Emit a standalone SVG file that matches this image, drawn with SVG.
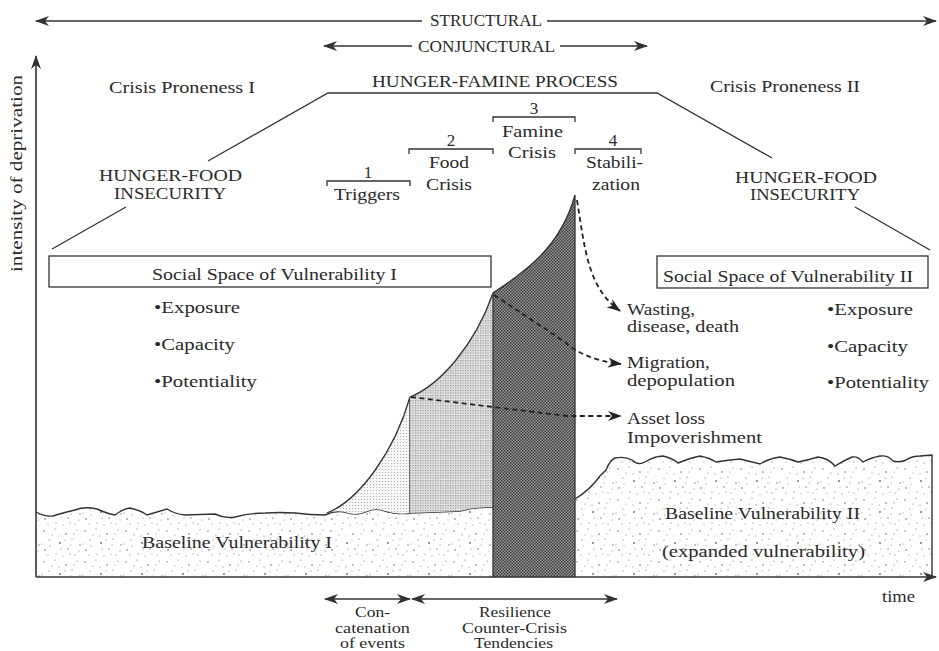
<svg xmlns="http://www.w3.org/2000/svg" width="939" height="651" viewBox="0 0 939 651">
<defs>
<style>
text{font-family:"Liberation Serif","DejaVu Serif",serif;font-size:17px;fill:#2a2a2a}
.sm{font-size:16px}
.xs{font-size:14.5px}
.ln{stroke:#333;stroke-width:1.3;fill:none}
.ax{stroke:#333;stroke-width:1.6;fill:none}
.dash{stroke:#222;stroke-width:1.8;fill:none;stroke-dasharray:5 3.5}
.edge{stroke:#333;stroke-width:1.4;fill:none}
</style>
<marker id="ah" markerUnits="userSpaceOnUse" viewBox="0 0 14 10" refX="13" refY="5" markerWidth="14" markerHeight="10" orient="auto-start-reverse">
<path d="M0,0 L14,5 L0,10 L4,5 z" fill="#333"/>
</marker>
<marker id="dah" markerUnits="userSpaceOnUse" viewBox="0 0 14 10" refX="13" refY="5" markerWidth="14" markerHeight="10" orient="auto">
<path d="M0,0 L14,5 L0,10 L4,5 z" fill="#222"/>
</marker>
<pattern id="stip" width="41" height="31" patternUnits="userSpaceOnUse">
<rect width="41" height="31" fill="#fff"/>
<g fill="#666">
<circle cx="3" cy="4" r="0.7"/><circle cx="14" cy="2" r="0.6"/><circle cx="25" cy="7" r="0.8"/><circle cx="36" cy="3" r="0.6"/>
<circle cx="8" cy="13" r="0.6"/><circle cx="19" cy="16" r="0.9"/><circle cx="31" cy="12" r="0.6"/><circle cx="39" cy="18" r="0.7"/>
<circle cx="4" cy="23" r="0.8"/><circle cx="15" cy="27" r="0.6"/><circle cx="27" cy="22" r="0.7"/><circle cx="34" cy="28" r="0.6"/>
<circle cx="11" cy="8" r="0.5"/><circle cx="22" cy="29" r="0.5"/><circle cx="30" cy="18" r="0.5"/><circle cx="1" cy="17" r="0.5"/>
<circle cx="18" cy="9" r="0.5"/><circle cx="33" cy="7" r="0.5"/><circle cx="9" cy="19" r="0.5"/><circle cx="24" cy="13" r="0.5"/>
<circle cx="38" cy="24" r="0.5"/><circle cx="7" cy="28" r="0.5"/><circle cx="20" cy="22" r="0.5"/><circle cx="29" cy="27" r="0.5"/>
</g>
</pattern>
<pattern id="light" width="3" height="3" patternUnits="userSpaceOnUse">
<rect width="3" height="3" fill="#f6f6f6"/>
<circle cx="1.5" cy="1.5" r="0.6" fill="#aaa"/>
</pattern>
<pattern id="med" width="2.5" height="2.5" patternUnits="userSpaceOnUse">
<rect width="2.5" height="2.5" fill="#e2e2e2"/>
<rect x="0" y="0" width="1.1" height="1.1" fill="#888"/>
</pattern>
<pattern id="dark" width="3" height="3" patternUnits="userSpaceOnUse">
<rect width="3" height="3" fill="#9a9a9a"/>
<rect x="0" y="0" width="1.5" height="1.5" fill="#3a3a3a"/>
<rect x="1.5" y="1.5" width="1.5" height="1.5" fill="#3a3a3a"/>
</pattern>
</defs>
<rect width="939" height="651" fill="#fff"/>

<g id="baseline1">
<path d="M36,512 Q45,517 53,516 Q62,513 75,510 Q85,506 97,509 Q108,514 115,515 Q122,509 130,508 Q140,510 147,515 Q157,512 167,509 Q175,514 185,515 L215,514 Q225,519 235,517 Q250,513 265,513 Q280,512 295,513 Q310,515 325,515 Q335,510 345,512 Q355,516 365,512 Q375,507 385,511 Q398,515 410,513 Q440,512 460,511 Q475,507 493,507 L493,577 L36,577 Z" fill="url(#stip)"/>
<path d="M36,512 Q45,517 53,516 Q62,513 75,510 Q85,506 97,509 Q108,514 115,515 Q122,509 130,508 Q140,510 147,515 Q157,512 167,509 Q175,514 185,515 L215,514 Q225,519 235,517 Q250,513 265,513 Q280,512 295,513 Q310,515 325,515 Q335,510 345,512 Q355,516 365,512 Q375,507 385,511 Q398,515 410,513 Q440,512 460,511 Q475,507 493,507" class="edge"/>
<text x="142" y="548" textLength="190" lengthAdjust="spacingAndGlyphs">Baseline Vulnerability I</text>
</g>

<g id="baseline2">
<path d="M575,499 Q590,490 600,476 L606,470 Q610,460 615,458 Q625,456 632,460 Q638,466 645,462 Q655,456 663,456 Q672,458 678,463 Q690,458 700,456 Q710,458 716,462 Q728,460 740,459 Q752,462 760,464 Q770,458 780,457 Q790,459 798,462 Q808,460 818,457 Q828,458 835,466 Q845,460 852,457 Q858,456 863,462 Q870,458 880,456 Q888,455 893,461 Q900,463 906,460 Q912,456 920,456 L932,455 L932,577 L575,577 Z" fill="url(#stip)"/>
<path d="M575,499 Q590,490 600,476 L606,470 Q610,460 615,458 Q625,456 632,460 Q638,466 645,462 Q655,456 663,456 Q672,458 678,463 Q690,458 700,456 Q710,458 716,462 Q728,460 740,459 Q752,462 760,464 Q770,458 780,457 Q790,459 798,462 Q808,460 818,457 Q828,458 835,466 Q845,460 852,457 Q858,456 863,462 Q870,458 880,456 Q888,455 893,461 Q900,463 906,460 Q912,456 920,456 L932,455 L932,577" class="edge"/>
<text x="665" y="519" textLength="195" lengthAdjust="spacingAndGlyphs">Baseline Vulnerability II</text>
<text x="662" y="557" textLength="203" lengthAdjust="spacingAndGlyphs">(expanded vulnerability)</text>
</g>

<g id="phase-triggers-area">
<path d="M327,513 C360,500 395,450 410,397 L410,513 Q398,515 385,511 Q375,507 365,512 Q355,516 345,512 Q335,510 327,513 Z" fill="url(#light)"/>
<path d="M327,513 C360,500 395,450 410,397 L410,513" class="ln"/>
</g>
<g id="phase-food-area">
<path d="M410,397 C440,385 475,345 493,293 L493,507 Q475,507 460,511 Q440,512 410,513 Z" fill="url(#med)"/>
<path d="M410,397 C440,385 475,345 493,293" class="ln"/>
</g>
<g id="phase-famine-area">
<path d="M493,293 C520,275 560,250 575,195 L575,577 L493,577 Z" fill="url(#dark)"/>
<path d="M493,293 C520,275 560,250 575,195 L575,577 M493,293 L493,577" class="ln"/>
</g>

<g id="axes">
<path d="M36,577 L36,56" class="ax" marker-end="url(#ah)"/>
<path d="M36,577 L936,577" class="ax" marker-end="url(#ah)"/>
<text transform="translate(22,272) rotate(-90)" textLength="197" lengthAdjust="spacingAndGlyphs">intensity of deprivation</text>
<text x="882" y="602" textLength="33" lengthAdjust="spacingAndGlyphs">time</text>
</g>

<g id="timescales">
<path d="M36,21 L422,21" class="ln" marker-start="url(#ah)"/>
<path d="M547,21 L936,21" class="ln" marker-end="url(#ah)"/>
<text x="430" y="26" class="sm" textLength="112" lengthAdjust="spacingAndGlyphs">STRUCTURAL</text>
<path d="M324,46 L412,46" class="ln" marker-start="url(#ah)"/>
<path d="M560,46 L647,46" class="ln" marker-end="url(#ah)"/>
<text x="418" y="52" class="sm" textLength="137" lengthAdjust="spacingAndGlyphs">CONJUNCTURAL</text>
</g>

<g id="process">
<path d="M52,249 L126,207 M208,161 L328,93 L657,93 L772,158 M855,207 L930,250" class="ln"/>
<text x="372" y="87" textLength="246" lengthAdjust="spacingAndGlyphs">HUNGER-FAMINE PROCESS</text>
<text x="109" y="93" textLength="146" lengthAdjust="spacingAndGlyphs">Crisis Proneness I</text>
<text x="710" y="92" textLength="150" lengthAdjust="spacingAndGlyphs">Crisis Proneness II</text>
</g>

<g id="insecurity1">
<text x="99" y="181" class="sm" textLength="143" lengthAdjust="spacingAndGlyphs">HUNGER-FOOD</text>
<text x="114" y="199" class="sm" textLength="112" lengthAdjust="spacingAndGlyphs">INSECURITY</text>
</g>
<g id="insecurity2">
<text x="735" y="183" class="sm" textLength="142" lengthAdjust="spacingAndGlyphs">HUNGER-FOOD</text>
<text x="750" y="200" class="sm" textLength="110" lengthAdjust="spacingAndGlyphs">INSECURITY</text>
</g>

<g id="space1">
<rect x="49" y="256" width="442" height="31" class="ln" fill="#fff"/>
<text x="152" y="280" textLength="245" lengthAdjust="spacingAndGlyphs">Social Space of Vulnerability I</text>
<text x="154" y="313" textLength="86" lengthAdjust="spacingAndGlyphs">•Exposure</text>
<text x="154" y="350" textLength="81" lengthAdjust="spacingAndGlyphs">•Capacity</text>
<text x="154" y="387" textLength="103" lengthAdjust="spacingAndGlyphs">•Potentiality</text>
</g>
<g id="space2">
<rect x="657" y="256" width="271" height="32" class="ln" fill="#fff"/>
<text x="663" y="282" textLength="250" lengthAdjust="spacingAndGlyphs">Social Space of Vulnerability II</text>
<text x="827" y="315" textLength="86" lengthAdjust="spacingAndGlyphs">•Exposure</text>
<text x="827" y="352" textLength="81" lengthAdjust="spacingAndGlyphs">•Capacity</text>
<text x="827" y="388" textLength="102" lengthAdjust="spacingAndGlyphs">•Potentiality</text>
</g>

<g id="phase1">
<path d="M327,186 V181 H410 V186" class="ln"/>
<text x="368" y="178" text-anchor="middle">1</text>
<text x="334" y="200" textLength="66" lengthAdjust="spacingAndGlyphs">Triggers</text>
</g>
<g id="phase2">
<path d="M409,154 V149 H493 V154" class="ln"/>
<text x="451" y="146" text-anchor="middle">2</text>
<text x="429" y="168" textLength="40" lengthAdjust="spacingAndGlyphs">Food</text>
<text x="426" y="190" textLength="46" lengthAdjust="spacingAndGlyphs">Crisis</text>
</g>
<g id="phase3">
<path d="M493,122 V117 H575 V122" class="ln"/>
<text x="534" y="114" text-anchor="middle">3</text>
<text x="502" y="137" textLength="61" lengthAdjust="spacingAndGlyphs">Famine</text>
<text x="508" y="158" textLength="48" lengthAdjust="spacingAndGlyphs">Crisis</text>
</g>
<g id="phase4">
<path d="M575,154 V149 H641 V154" class="ln"/>
<text x="613" y="146" text-anchor="middle">4</text>
<text x="586" y="168" textLength="57" lengthAdjust="spacingAndGlyphs">Stabili-</text>
<text x="592" y="190" textLength="48" lengthAdjust="spacingAndGlyphs">zation</text>
</g>

<g id="outcomes">
<text x="627" y="315" class="sm" textLength="68" lengthAdjust="spacingAndGlyphs">Wasting,</text>
<text x="627" y="332" class="sm" textLength="112" lengthAdjust="spacingAndGlyphs">disease, death</text>
<text x="627" y="368" textLength="83" lengthAdjust="spacingAndGlyphs">Migration,</text>
<text x="627" y="386" textLength="108" lengthAdjust="spacingAndGlyphs">depopulation</text>
<text x="627" y="424" textLength="78" lengthAdjust="spacingAndGlyphs">Asset loss</text>
<text x="627" y="443" textLength="135" lengthAdjust="spacingAndGlyphs">Impoverishment</text>
</g>

<g id="connectors">
<path d="M577,200 C585,250 588,288 620,311" class="dash" marker-end="url(#dah)"/>
<path d="M494,295 L565,342 Q585,360 621,364" class="dash" marker-end="url(#dah)"/>
<path d="M411,397 L567,416 L621,416" class="dash" marker-end="url(#dah)"/>
<path d="M325,599 L410,599" class="ln" marker-start="url(#ah)" marker-end="url(#ah)"/>
<path d="M412,599 L617,599" class="ln" marker-start="url(#ah)" marker-end="url(#ah)"/>
</g>

<g id="bottom-labels">
<text x="355" y="617" class="xs" textLength="35" lengthAdjust="spacingAndGlyphs">Con-</text>
<text x="335" y="632.5" class="xs" textLength="75" lengthAdjust="spacingAndGlyphs">catenation</text>
<text x="340" y="648" class="xs" textLength="65" lengthAdjust="spacingAndGlyphs">of events</text>
<text x="479" y="617" class="xs" textLength="72" lengthAdjust="spacingAndGlyphs">Resilience</text>
<text x="462" y="632.5" class="xs" textLength="105" lengthAdjust="spacingAndGlyphs">Counter-Crisis</text>
<text x="474" y="648" class="xs" textLength="79" lengthAdjust="spacingAndGlyphs">Tendencies</text>
</g>
</svg>
